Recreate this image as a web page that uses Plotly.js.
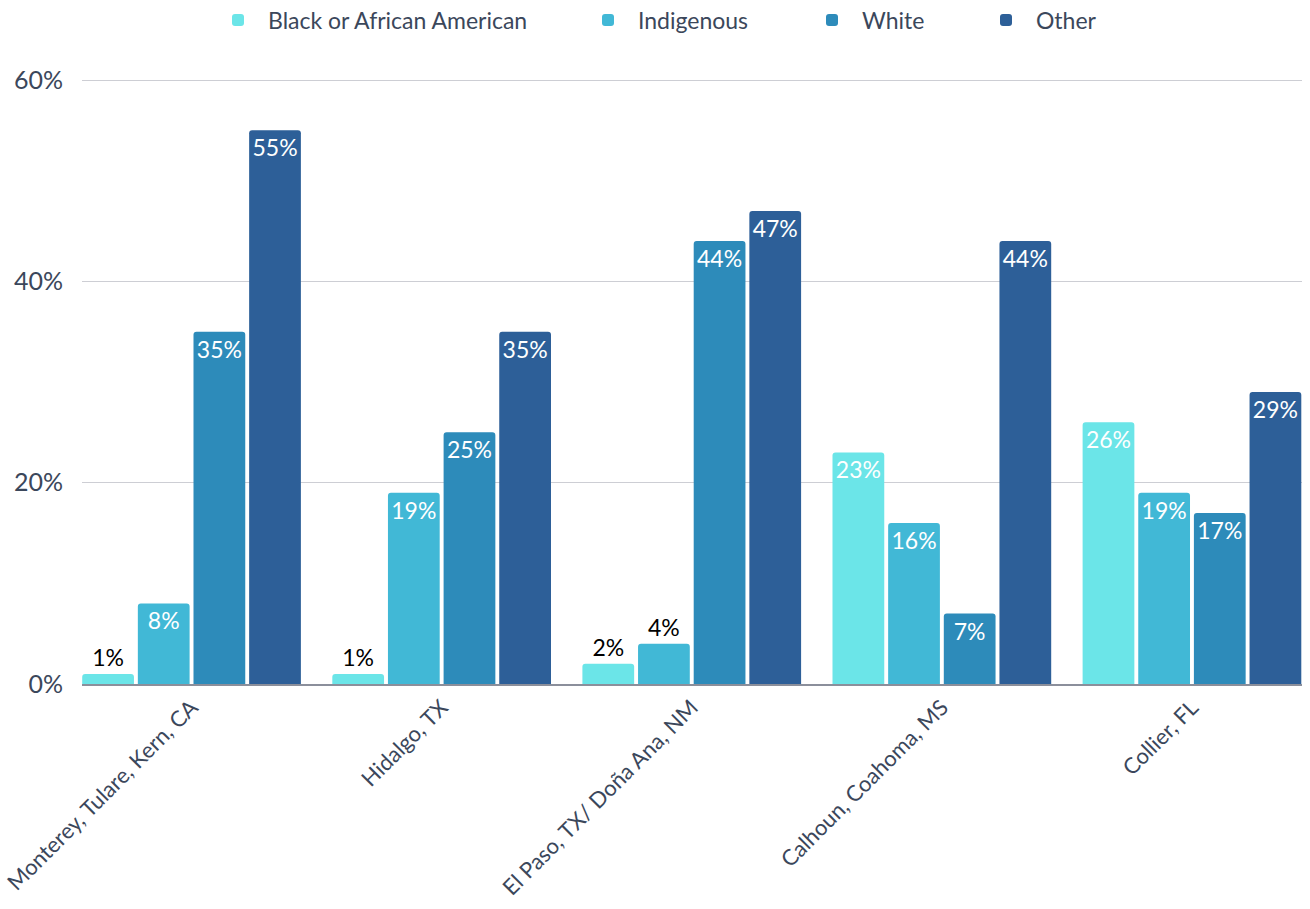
<!DOCTYPE html>
<html>
<head>
<meta charset="utf-8">
<script src="https://cdn.plot.ly/plotly-3.0.1.min.js"></script>
<style>html,body{margin:0;padding:0;background:#fff;}#chart{width:1310px;height:909px;}</style>
</head>
<body>
<div id="chart"></div>
<script>
var categories = ["Monterey, Tulare, Kern, CA", "Hidalgo, TX", "El Paso, TX/ Doña Ana, NM", "Calhoun, Coahoma, MS", "Collier, FL"];
var seriesNames = ["Black or African American", "Indigenous", "White", "Other"];
var blackValues = [1, 1, 2, 23, 26];
var indigenousValues = [8, 19, 4, 16, 19];
var whiteValues = [35, 25, 44, 7, 17];
var otherValues = [55, 35, 47, 44, 29];
var yTickValues = [0, 20, 40, 60];
var yTickLabels = ["0%", "20%", "40%", "60%"];

var colors = ["#6be5e8", "#41b8d6", "#2d8bba", "#2d5f98"];
var allValues = [blackValues, indigenousValues, whiteValues, otherValues];
var legendIds = ["legend", "legend2", "legend3", "legend4"];
var legendX = [208, 578, 802, 976];
var textColor = "#3b475b";
var font = "Lato, 'Open Sans', sans-serif";

var traces = allValues.map(function(vals, i) {
  return {
    type: "bar",
    name: seriesNames[i],
    x: categories,
    y: vals,
    legend: legendIds[i],
    marker: {color: colors[i]},
    text: vals.map(function(v){ return v + "%"; }),
    textposition: vals.map(function(v){ return v < 5 ? "outside" : "inside"; }),
    insidetextanchor: "end",
    textangle: 0,
    constraintext: "none",
    textfont: {family: font, size: 23, color: vals.map(function(v){ return v < 5 ? "#000000" : "#ffffff"; })},
    cliponaxis: false,
    hoverinfo: "skip"
  };
});

var layout = {
  width: 1310,
  height: 909,
  margin: {l: 82, r: 8, t: 75, b: 225},
  paper_bgcolor: "#ffffff",
  plot_bgcolor: "#ffffff",
  barmode: "group",
  bargap: 0.11,
  bargroupgap: 0.07,
  barcornerradius: 3,
  font: {family: font, size: 22, color: textColor},
  xaxis: {
    type: "category",
    range: [-0.438, 4.44],
    tickangle: -45,
    showgrid: false,
    showline: true,
    linecolor: "#8b8f9b",
    linewidth: 2,
    ticks: "",
    tickfont: {family: font, size: 22, color: textColor},
    automargin: false
  },
  yaxis: {
    range: [0, 60.5],
    tickvals: yTickValues,
    ticktext: yTickLabels,
    showgrid: true,
    gridcolor: "#cdced4",
    gridwidth: 1,
    zeroline: false,
    showline: false,
    ticks: "",
    ticklabelstandoff: 18,
    tickfont: {family: font, size: 25, color: textColor},
    automargin: false
  },
  showlegend: true
};
legendIds.forEach(function(id, i) {
  layout[id] = {
    orientation: "h",
    xref: "container",
    yref: "container",
    x: legendX[i] / 1310,
    xanchor: "left",
    y: 1 - 20 / 909,
    yanchor: "middle",
    itemwidth: 50,
    font: {family: font, size: 23, color: textColor},
    bgcolor: "rgba(0,0,0,0)"
  };
});

Plotly.newPlot("chart", traces, layout, {displayModeBar: false, staticPlot: true});
</script>
</body>
</html>
